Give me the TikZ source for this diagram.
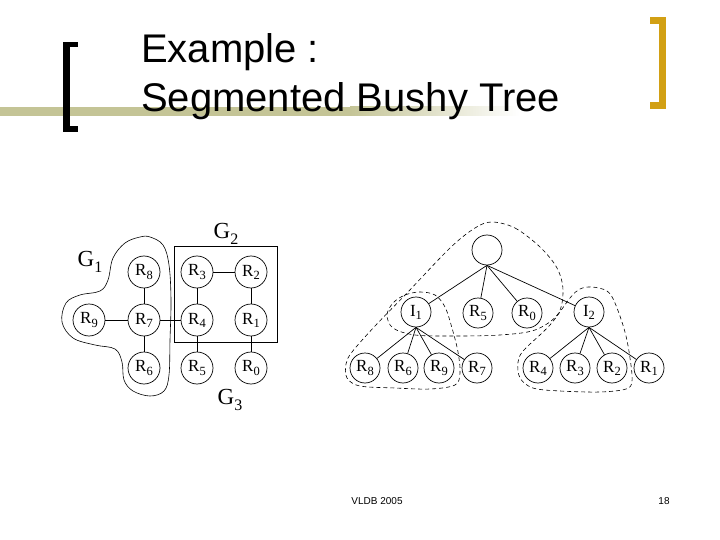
\documentclass[tikz,border=0pt]{standalone}
\usepackage{fontspec}
\setmainfont{Liberation Serif}
\newfontfamily\arialf{Liberation Sans}
\definecolor{olivebar}{RGB}{196,196,150}
\definecolor{goldbr}{RGB}{210,160,20}
\newcommand\Rsub[2]{#1\raisebox{-0.4ex}{\fontsize{12.5}{12.5}\selectfont #2}}
\newcommand\Gsub[1]{G\raisebox{-0.5ex}{\fontsize{16}{16}\selectfont #1}}
\begin{document}
\begin{tikzpicture}[x=1pt,y=-1pt,
  lnode/.style={circle,draw,line width=0.7pt,minimum size=32pt,inner sep=0pt,font=\fontsize{17}{17}\selectfont},
  tnode/.style={circle,draw,line width=0.7pt,minimum size=30pt,inner sep=0pt,font=\fontsize{17}{17}\selectfont},
  edge/.style={line width=0.7pt},
  seg/.style={dash pattern=on 4pt off 3pt,line width=0.6pt},
  glabel/.style={font=\fontsize{23}{23}\selectfont,inner sep=0pt},
  title/.style={anchor=base west,inner sep=0pt,font=\arialf\fontsize{40}{48}\selectfont},
  foot/.style={inner sep=0pt,font=\arialf\fontsize{10}{12}\selectfont}]
\useasboundingbox (0,0) rectangle (720,540);
% header decoration
\fill[olivebar] (0,107) rectangle (350,116);
\shade[left color=olivebar,right color=white] (350,107) rectangle (520,116);
\fill (63,42) rectangle (70,132);
\fill (63,42) rectangle (78,47);
\fill (63,126) rectangle (78,132);
\fill[goldbr] (659,17) rectangle (666,109);
\fill[goldbr] (650,17) rectangle (666,24);
\fill[goldbr] (650,102) rectangle (666,109);
\node[title] (t1) at (141,63) {Example :};
\node[title] (t2) at (141,112) {Segmented Bushy Tree};
% left graph
\node[lnode] (a8) at (144,272) {\Rsub{R}{8}};
\node[lnode] (a9) at (89,320) {\Rsub{R}{9}};
\node[lnode] (a7) at (144,320) {\Rsub{R}{7}};
\node[lnode] (a6) at (144,368) {\Rsub{R}{6}};
\node[lnode] (a3) at (197,272) {\Rsub{R}{3}};
\node[lnode] (a2) at (251,272) {\Rsub{R}{2}};
\node[lnode] (a4) at (197,320) {\Rsub{R}{4}};
\node[lnode] (a1) at (251,320) {\Rsub{R}{1}};
\node[lnode] (a5) at (197,368) {\Rsub{R}{5}};
\node[lnode] (a0) at (251,368) {\Rsub{R}{0}};
\draw[edge] (a9) -- (a7);
\draw[edge] (a7) -- (a4);
\draw[edge] (a8) -- (a7);
\draw[edge] (a7) -- (a6);
\draw[edge] (a3) -- (a2);
\draw[edge] (a3) -- (a4);
\draw[edge] (a2) -- (a1);
\draw[edge] (a4) -- (a5);
\draw[edge] (a1) -- (a0);
\draw[line width=0.7pt] (174,246) rectangle (277,342);
\draw[line width=0.6pt] plot[smooth cycle,tension=0.6] coordinates {
 (150,237) (163,245) (169,265) (171,300) (170,340) (169,375) (164,391) (150,396)
 (133,391) (124,380) (122,362) (115,349) (95,345) (73,338) (62,322) (66,303)
 (80,295) (100,291) (108,280) (113,258) (125,243) (140,237)};
\node[glabel] (g1) at (90,262) {\Gsub{1}};
\node[glabel] (g2) at (226,234) {\Gsub{2}};
\node[glabel] (g3) at (230,400) {\Gsub{3}};
% tree
\node[tnode] (root) at (487,250) {};
\node[tnode] (i1) at (416,312) {\Rsub{I}{1}};
\node[tnode] (b5) at (478,313) {\Rsub{R}{5}};
\node[tnode] (b0) at (527,313) {\Rsub{R}{0}};
\node[tnode] (i2) at (589,312) {\Rsub{I}{2}};
\node[tnode] (b8) at (365,368) {\Rsub{R}{8}};
\node[tnode] (b6) at (403,368) {\Rsub{R}{6}};
\node[tnode] (b9) at (439,368) {\Rsub{R}{9}};
\node[tnode] (b7) at (477,368) {\Rsub{R}{7}};
\node[tnode] (b4) at (538,368) {\Rsub{R}{4}};
\node[tnode] (b3) at (575,368) {\Rsub{R}{3}};
\node[tnode] (b2) at (612,368) {\Rsub{R}{2}};
\node[tnode] (b1) at (649,368) {\Rsub{R}{1}};
\foreach \c in {i1,b5,b0,i2} \draw[edge] (root.south) -- (\c);
\foreach \c in {b8,b6,b9,b7} \draw[edge] (i1.south) -- (\c);
\foreach \c in {b4,b3,b2,b1} \draw[edge] (i2.south) -- (\c);
\draw[seg] plot[smooth cycle,tension=0.55] coordinates {
 (492,222) (515,228) (540,247) (557,268) (563,290) (558,314) (535,330) (500,335)
 (455,336) (415,335) (393,328) (387,315) (393,303) (405,295) (420,292) (435,295)
 (445,307) (452,328) (458,352) (460,373) (455,385) (430,389) (395,388) (360,386)
 (347,378) (346,364) (352,352) (375,326) (407,293) (450,248) (475,228)};
\draw[seg] plot[smooth cycle,tension=0.55] coordinates {
 (592,287) (607,291) (615,303) (625,332) (630,358) (632,381) (626,389) (600,392)
 (560,391) (533,388) (520,378) (518,362) (524,350) (550,325) (570,298) (580,289)};
% footer
\node[foot] (f1) at (377,501) {VLDB 2005};
\node[foot] (f2) at (664,501) {18};
\end{tikzpicture}
\end{document}
